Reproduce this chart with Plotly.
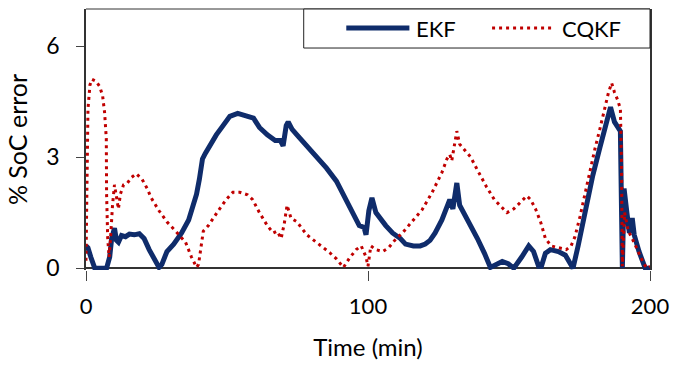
import plotly.graph_objects as go

# ---------------- data ----------------
ekf_t = [0, 0.7, 1.7, 3.1, 7.3, 8.4, 9.1, 10.1, 10.8, 11.5, 12.6, 14, 15.4, 17.1, 18.9,
         20.6, 22.4, 24.1, 25.9, 26.9, 28.7, 31.1, 33.9, 36.4, 38.1, 39.2, 40.2, 41.3,
         42.3, 44.1, 46.2, 48.6, 51, 53.8, 57.3, 59.4, 61.5, 64.3, 67.1, 68.9, 69.9,
         71, 71.7, 73.1, 74.8, 78.3, 81.8, 85.3, 88.8, 92.3, 96.9, 98.6, 99.3, 100.3,
         101.4, 102.8, 104.5, 106.3, 108.7, 111.5, 113.3, 116.1, 118.5, 120.3, 122,
         123.8, 126.2, 128, 129, 130.1, 131.5, 132.5, 134.3, 136.4, 138.8, 141.3, 143.4,
         145.5, 147.6, 149.7, 151.7, 154.5, 157, 158.7, 160.5, 161.5, 162.9, 164.7,
         167.5, 170, 171.3, 172.7, 174.5, 176.9, 179.7, 182.2, 183.9, 186, 187.4, 188.8,
         189.5, 190.2, 190.8, 191.8, 192.7, 193.7, 194.4, 196.1, 198.3, 200]
ekf_v = [0.6, 0.55, 0.3, 0, 0, 0.3, 0.8, 1.08, 0.75, 0.7, 0.88, 0.85, 0.92, 0.9, 0.93,
         0.8, 0.5, 0.25, 0.02, 0.1, 0.45, 0.65, 0.95, 1.3, 1.7, 2.0, 2.4, 2.95,
         3.1, 3.35, 3.6, 3.85, 4.1, 4.18, 4.12, 4.05, 3.8, 3.6, 3.45, 3.45, 3.3,
         3.85, 3.95, 3.75, 3.6, 3.3, 3.05, 2.7, 2.35, 1.85, 1.15, 1.1, 0.9, 1.55,
         1.9, 1.5, 1.3, 1.15, 0.95, 0.8, 0.65, 0.6, 0.6, 0.65, 0.75,
         0.95, 1.3, 1.65, 1.85, 1.6, 2.3, 1.7, 1.45, 1.15, 0.8, 0.4, 0.02,
         0.1, 0.18, 0.12, 0.0, 0.3, 0.6, 0.45, 0.05, 0.05, 0.4, 0.5,
         0.45, 0.35, 0.2, 0.0, 0.6, 1.5, 2.5, 3.25, 3.8, 4.35, 3.95, 3.8,
         3.7, 0.0, 2.15, 1.5, 0.95, 1.35, 0.9, 0.45, 0.0, 0.0]

cqkf_t = [0, 0.35, 0.7, 1.4, 2.1, 3.5, 4.9, 5.9, 6.6, 7.2, 7.3, 7.7, 8.2, 8.7, 9.4, 10.1,
          10.8, 11.5, 12.2, 13.3, 14.7, 16.1, 17.8, 19.9, 21.7, 23.1, 25.9, 28.7, 31.8,
          35.3, 37.4, 39.2, 39.9, 40.6, 41.6, 43.4, 45.1, 46.9, 49.7, 52.1, 54.5, 57.3,
          59.1, 61.5, 64.3, 66.4, 67.8, 69.2, 70.3, 71.3, 72.7, 74.8, 78.3, 81.8, 86.4,
          88.8, 91.3, 93.4, 95.8, 97.6, 99.3, 100, 101, 102.8, 105.2, 107.3, 109.8,
          112.2, 114.3, 116.8, 119.2, 122.7, 126.2, 128, 129, 129.7, 130.8, 131.5,
          132.5, 134.3, 136.4, 138.8, 142, 144.8, 147.2, 149.3, 151.7, 154.2, 156.3,
          157.7, 159.4, 161.2, 162.9, 165, 167.5, 170.3, 172, 173.4, 175.2, 176.9,
          178.7, 180.4, 182.2, 183.9, 185.3, 186.4, 187.4, 188.5, 189.5, 189.9, 190.2,
          191, 192.3, 193.7, 195.1, 196.5, 197.9, 199, 200]
cqkf_v = [0.2, 2.5, 4.3, 4.95, 5.1, 5.05, 4.9, 4.65, 4.2, 3.5, 2.0, 0.8, 0.3, 0.8, 1.7, 2.25,
          1.9, 1.6, 2.0, 2.25, 2.3, 2.45, 2.55, 2.4, 2.15, 1.9, 1.55, 1.25, 1.0,
          0.7, 0.3, 0.02, 0.1, 0.5, 1.0, 1.15, 1.35, 1.55, 1.85, 2.05, 2.05, 1.98,
          1.85, 1.5, 1.15, 0.95, 1.0, 0.8, 1.2, 1.7, 1.35, 1.25, 0.9, 0.7, 0.42,
          0.25, 0.02, 0.27, 0.5, 0.6, 0.3, 0.05, 0.6, 0.5, 0.45, 0.55, 0.78,
          0.95, 1.13, 1.35, 1.58, 2.04, 2.58, 2.95, 3.07, 2.9, 3.4, 3.7,
          3.35, 3.2, 3.0, 2.65, 2.2, 1.85, 1.65, 1.5, 1.6, 1.78, 1.95,
          1.85, 1.6, 1.25, 0.8, 0.6, 0.55, 0.5, 0.6, 0.85, 1.4, 2.0,
          2.6, 3.2, 3.75, 4.3, 4.75, 5.0, 4.75, 4.55, 4.3, 2.8, 0.05,
          1.5, 1.0, 0.8, 0.55, 0.3, 0.1, 0.0, 0.05]

x_ticks = [0, 100, 200]
y_ticks = [0, 3, 6]
series_names = ["EKF", "CQKF"]

BLUE = "#0F2C6B"
RED = "#C00000"
FONT = "Lato"

fig = go.Figure()
fig.add_trace(go.Scatter(x=ekf_t, y=ekf_v, mode="lines", name=series_names[0],
                         line=dict(color=BLUE, width=5), showlegend=False))
fig.add_trace(go.Scatter(x=cqkf_t, y=cqkf_v, mode="lines", name=series_names[1],
                         line=dict(color=RED, width=3, dash="3px,4px"), showlegend=False))

fig.update_layout(
    width=678, height=368,
    margin=dict(l=86, r=20, t=9, b=98),
    paper_bgcolor="white", plot_bgcolor="white",
    font=dict(family=FONT, color="black", size=22),
)
fig.update_xaxes(
    range=[0, 200], tickvals=x_ticks, ticktext=[str(v) for v in x_ticks],
    showgrid=False, zeroline=False, showline=False,
    ticks="outside", ticklen=10, tickwidth=1, tickcolor="#444",
    tickfont=dict(size=22), ticklabelstandoff=7,
    title=dict(text="Time (min)", font=dict(size=24), standoff=20),
)
fig.update_yaxes(
    range=[-0.05, 7.0], tickvals=y_ticks, ticktext=[str(v) for v in y_ticks],
    showgrid=False, zeroline=True, zerolinecolor="#333", zerolinewidth=2,
    showline=True, linecolor="#333", linewidth=1.5, mirror=True,
    ticks="outside", ticklen=8, tickwidth=1, tickcolor="#444",
    tickfont=dict(size=23), ticklabelstandoff=12,
    title=dict(text="% SoC error", font=dict(size=25), standoff=12),
)

# top frame line
fig.add_shape(type="line", xref="paper", yref="paper", x0=0, x1=1, y0=1, y1=1,
              line=dict(color="#333", width=1))

# legend box (manual, to mimic the original long sample lines)
fig.add_shape(type="rect", xref="paper", yref="paper", x0=0.386, x1=1.0, y0=0.8505, y1=1.0,
              line=dict(color="#222", width=1), fillcolor="white", layer="above")
fig.add_shape(type="line", xref="paper", yref="paper", x0=0.4615, x1=0.5734, y0=0.927, y1=0.927,
              line=dict(color=BLUE, width=5), layer="above")
fig.add_shape(type="line", xref="paper", yref="paper", x0=0.720, x1=0.825, y0=0.927, y1=0.927,
              line=dict(color=RED, width=3, dash="3px,4px"), layer="above")
fig.add_annotation(xref="paper", yref="paper", x=0.582, y=0.927, text=series_names[0],
                   showarrow=False, xanchor="left", yanchor="middle", font=dict(size=22))
fig.add_annotation(xref="paper", yref="paper", x=0.841, y=0.927, text=series_names[1],
                   showarrow=False, xanchor="left", yanchor="middle", font=dict(size=22))

fig.write_html("out.html")
